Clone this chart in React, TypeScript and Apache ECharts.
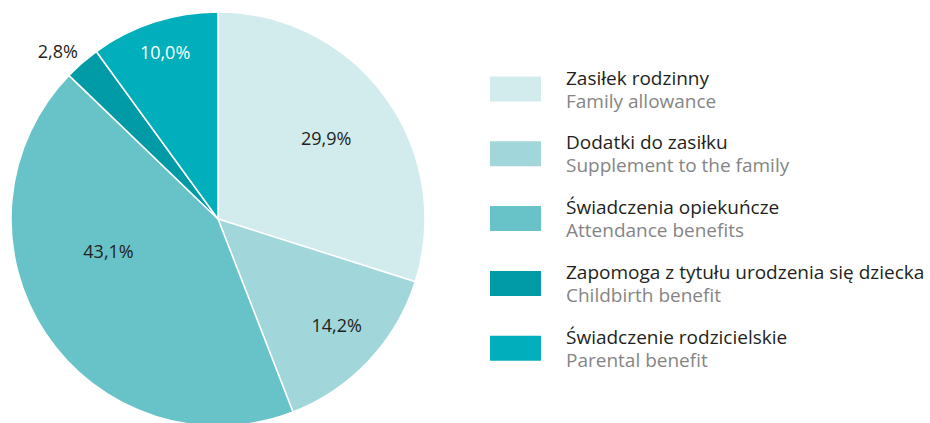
import React, { useEffect, useRef } from "react";
import * as echarts from "echarts";

const namesPl = [
  "Zasiłek rodzinny",
  "Dodatki do zasiłku",
  "Świadczenia opiekuńcze",
  "Zapomoga z tytułu urodzenia się dziecka",
  "Świadczenie rodzicielskie",
];
const namesEn = [
  "Family allowance",
  "Supplement to the family",
  "Attendance benefits",
  "Childbirth benefit",
  "Parental benefit",
];
const values = [29.9, 14.2, 43.1, 2.8, 10.0];
const colors = ["#D2EBEC", "#A1D7DA", "#68C3C8", "#009BA6", "#00AFBB"];
const labelColors = ["#231F20", "#231F20", "#231F20", "#231F20", "#FFFFFF"];
// distance of each value label from the pie centre (px) and angular nudge (deg)
const labelDistances = [132, 156, 111, 229, 172];
const labelAngleShift = [0.6, 1.5, -17.5, 2.6, -0.4];

const FONT = "'Open Sans', 'Noto Sans', sans-serif";

export default function App() {
  const ref = useRef<HTMLDivElement>(null);
  useEffect(() => {
    document.body.style.margin = "0";
    const chart = echarts.init(ref.current!, undefined, { renderer: "svg" });
    const center = [218, 219];
    const R = 207;
    const baseData = values.map((v, i) => ({
      name: namesPl[i],
      value: v,
      itemStyle: { color: colors[i] },
    }));
    const labelSeries = values.map((_, k) => ({
      type: "pie",
      silent: true,
      center,
      radius: [labelDistances[k] - 1, labelDistances[k] + 1],
      startAngle: 90 + labelAngleShift[k],
      clockwise: true,
      avoidLabelOverlap: false,
      legendHoverLink: false,
      itemStyle: { color: "rgba(0,0,0,0)", borderWidth: 0 },
      labelLine: { show: false },
      emphasis: { disabled: true },
      data: values.map((v, i) => ({
        name: namesPl[i],
        value: v,
        label: {
          show: i === k,
          position: "inside",
          color: labelColors[i],
          fontSize: 18,
          fontFamily: FONT,
          formatter: () => v.toFixed(1).replace(".", ",") + "%",
        },
      })),
    }));
    chart.setOption({
      animation: false,
      backgroundColor: "#FFFFFF",
      legend: {
        orient: "vertical",
        left: 488,
        top: 68,
        padding: 0,
        icon: "rect",
        itemWidth: 53,
        itemHeight: 27,
        itemGap: 22.8,
        selectedMode: false,
        data: namesPl,
        formatter: (name: string) => {
          const i = namesPl.indexOf(name);
          return `{a|${name}}\n{b|${namesEn[i]}}`;
        },
        textStyle: {
          fontFamily: FONT,
          rich: {
            a: {
              fontSize: 19,
              color: "#231F20",
              lineHeight: 23,
              fontFamily: FONT,
              padding: [0, 0, 0, 19],
            },
            b: {
              fontSize: 19,
              color: "#858585",
              lineHeight: 23,
              fontFamily: FONT,
              padding: [0, 0, 0, 19],
            },
          },
        },
      },
      series: [
        {
          type: "pie",
          center,
          radius: [0, R],
          startAngle: 90,
          clockwise: true,
          silent: true,
          label: { show: false },
          labelLine: { show: false },
          itemStyle: { borderColor: "#FFFFFF", borderWidth: 1.5 },
          emphasis: { disabled: true },
          data: baseData,
        },
        ...labelSeries,
      ],
    });
    return () => chart.dispose();
  }, []);
  return <div ref={ref} style={{ width: 930, height: 423 }} />;
}
